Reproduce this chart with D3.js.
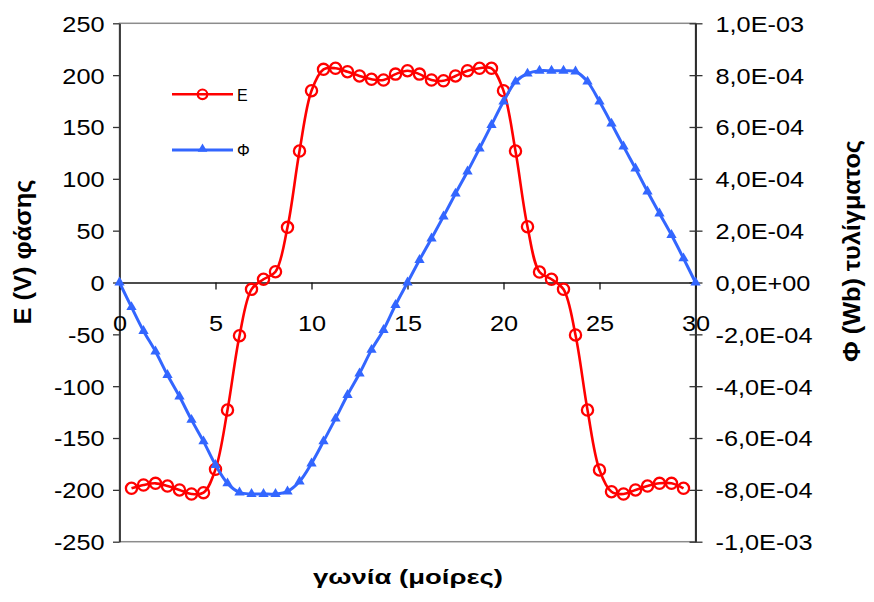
<!DOCTYPE html>
<html><head><meta charset="utf-8">
<script src="https://cdn.jsdelivr.net/npm/d3@7"></script>
<style>body{margin:0;background:#fff} svg{display:block}</style>
</head><body>
<svg id="chart" width="874" height="602"></svg>
<script>
// ---- data ----
const phiAngles = [0,0.625,1.25,1.875,2.5,3.125,3.75,4.375,5,5.625,6.25,6.875,7.5,8.125,8.75,9.375,10,10.625,11.25,11.875,12.5,13.125,13.75,14.375,15,15.625,16.25,16.875,17.5,18.125,18.75,19.375,20,20.625,21.25,21.875,22.5,23.125,23.75,24.375,25,25.625,26.25,26.875,27.5,28.125,28.75,29.375,30];
const phiValues = [0,-0.95e-4,-1.87e-4,-2.66e-4,-3.57e-4,-4.40e-4,-5.30e-4,-6.13e-4,-7.04e-4,-7.75e-4,-8.10e-4,-8.16e-4,-8.16e-4,-8.16e-4,-8.06e-4,-7.68e-4,-6.98e-4,-6.13e-4,-5.25e-4,-4.34e-4,-3.51e-4,-2.60e-4,-1.83e-4,-0.87e-4,0,0.87e-4,1.70e-4,2.55e-4,3.43e-4,4.28e-4,5.17e-4,6.08e-4,6.98e-4,7.75e-4,8.06e-4,8.17e-4,8.17e-4,8.17e-4,8.14e-4,7.75e-4,6.98e-4,6.13e-4,5.25e-4,4.40e-4,3.51e-4,2.66e-4,1.83e-4,0.93e-4,0];
const eAngles = [0.625,1.25,1.875,2.5,3.125,3.75,4.375,5,5.625,6.25,6.875,7.5,8.125,8.75,9.375,10,10.625,11.25,11.875,12.5,13.125,13.75,14.375,15,15.625,16.25,16.875,17.5,18.125,18.75,19.375,20,20.625,21.25,21.875,22.5,23.125,23.75,24.375,25,25.625,26.25,26.875,27.5,28.125,28.75,29.375];
const eValues = [-198.5,-195.3,-193.7,-196.3,-200.1,-204,-202.7,-180.2,-123,-51.3,-6.6,3.1,10.4,53.2,126.8,185,205.6,206.6,203.3,199.2,196,195.3,201,204.3,201,195.3,194.6,199.2,204.3,206.6,206.6,185,126.8,53.8,10.1,3.1,-6.5,-50.6,-123,-180.8,-201.8,-204,-200.1,-196.3,-193.7,-193.7,-198.5];
const xTicks = [0,5,10,15,20,25,30];
const eTicks = [-250,-200,-150,-100,-50,0,50,100,150,200,250];
const phiTicks = [-1e-3,-8e-4,-6e-4,-4e-4,-2e-4,0,2e-4,4e-4,6e-4,8e-4,1e-3];
const phiTickLabels = ["-1,0E-03","-8,0E-04","-6,0E-04","-4,0E-04","-2,0E-04","0,0E+00","2,0E-04","4,0E-04","6,0E-04","8,0E-04","1,0E-03"];
const seriesNames = ["E","Φ"];
const xTitle = "γωνία (μοίρες)";
const yLeftTitle = "E (V) φάσης";
const yRightTitle = "Φ (Wb) τυλίγματος";

// ---- layout ----
const FONT = "'Liberation Sans', Arial, sans-serif";
const RED = "#ff0000", BLUE = "#3366ff";
const pL = 119.5, pR = 695.5, pT = 23.3, pB = 541.7;
const SX = 1.15;
const plain = d => String(d); // hyphen-minus like the original

const svg = d3.select("#chart");
svg.append("rect").attr("width",874).attr("height",602).attr("fill","#fff");

const x = d3.scaleLinear().domain([0,30]).range([pL,pR]);
const yE = d3.scaleLinear().domain([-250,250]).range([pB,pT]);
const yP = d3.scaleLinear().domain([-1e-3,1e-3]).range([pB,pT]);

// plot area border
svg.append("rect").attr("x",pL).attr("y",pT).attr("width",pR-pL).attr("height",pB-pT)
  .attr("fill","none").attr("stroke","#8c8c8c").attr("stroke-width",1.5);

function styleTexts(g){
  g.selectAll(".tick text").attr("font-family",FONT).attr("font-size",22).attr("fill","#000")
   .attr("transform",`scale(${SX},1)`);
}

// left axis
const gL = svg.append("g").attr("transform",`translate(${pL},0)`)
  .call(d3.axisLeft(yE).tickValues(eTicks).tickSizeInner(6.5).tickSizeOuter(0).tickPadding(0).tickFormat(plain));
gL.select(".domain").attr("stroke","#333").attr("stroke-width",1.8);
gL.selectAll(".tick line").attr("stroke","#333").attr("stroke-width",1.3);
styleTexts(gL);
gL.selectAll(".tick text").attr("x",-15/SX).attr("dy","0.36em");

// right axis
const gR = svg.append("g").attr("transform",`translate(${pR},0)`)
  .call(d3.axisRight(yP).tickValues(phiTicks).tickSizeInner(7).tickSizeOuter(0)
    .tickFormat((d,i)=>phiTickLabels[i]));
gR.select(".domain").attr("stroke","#222").attr("stroke-width",1.8);
gR.selectAll(".tick line").attr("stroke","#333").attr("stroke-width",1.3).attr("x1",-6).attr("x2",7);
styleTexts(gR);
gR.selectAll(".tick text").attr("x",20/SX).attr("dy","0.36em");

// x axis at E=0
const gX = svg.append("g").attr("transform",`translate(0,${yE(0)})`)
  .call(d3.axisBottom(x).tickValues(xTicks).tickSizeInner(7).tickSizeOuter(0).tickFormat(plain));
gX.select(".domain").attr("stroke","#111").attr("stroke-width",1.3);
gX.selectAll(".tick line").attr("stroke","#111").attr("stroke-width",1.3);
styleTexts(gX);
gX.selectAll(".tick text").attr("y",49).attr("dy","0");

// series
const eData = eAngles.map((a,i)=>[a,eValues[i]]);
const phiData = phiAngles.map((a,i)=>[a,phiValues[i]]);
const lineE = d3.line().x(d=>x(d[0])).y(d=>yE(d[1])).curve(d3.curveCatmullRom.alpha(0.5));
const lineP = d3.line().x(d=>x(d[0])).y(d=>yP(d[1])).curve(d3.curveCatmullRom.alpha(0.5));

svg.append("path").datum(eData).attr("d",lineE).attr("fill","none").attr("stroke",RED).attr("stroke-width",2.6);
svg.append("g").selectAll("circle").data(eData).join("circle")
  .attr("cx",d=>x(d[0])).attr("cy",d=>yE(d[1])).attr("r",5.6)
  .attr("fill","none").attr("stroke",RED).attr("stroke-width",2.3);

svg.append("path").datum(phiData).attr("d",lineP).attr("fill","none").attr("stroke",BLUE).attr("stroke-width",3);
const tri = d3.symbol().type(d3.symbolTriangle).size(46);
svg.append("g").selectAll("path").data(phiData).join("path")
  .attr("d",tri).attr("transform",d=>`translate(${x(d[0])},${yP(d[1])})`).attr("fill",BLUE);

// legend
const lg = svg.append("g");
lg.append("line").attr("x1",172).attr("x2",233).attr("y1",94.3).attr("y2",94.3).attr("stroke",RED).attr("stroke-width",2.6);
lg.append("circle").attr("cx",202.5).attr("cy",94.3).attr("r",4.8).attr("fill","none").attr("stroke",RED).attr("stroke-width",2.2);
lg.append("text").attr("x",237).attr("y",100.5).text(seriesNames[0]).attr("font-family",FONT).attr("font-size",16);
lg.append("line").attr("x1",172).attr("x2",233).attr("y1",150).attr("y2",150).attr("stroke",BLUE).attr("stroke-width",3);
lg.append("path").attr("d",d3.symbol().type(d3.symbolTriangle).size(40)()).attr("transform","translate(202.5,149)").attr("fill",BLUE);
lg.append("text").attr("x",237).attr("y",156).text(seriesNames[1]).attr("font-family",FONT).attr("font-size",16);

// titles
svg.append("text").attr("x",408).attr("y",584).attr("text-anchor","middle")
  .attr("font-family",FONT).attr("font-weight","bold").attr("font-size",20)
  .attr("textLength",190).attr("lengthAdjust","spacingAndGlyphs").text(xTitle);
svg.append("text").attr("transform","translate(31,252) rotate(-90)").attr("text-anchor","middle")
  .attr("font-family",FONT).attr("font-weight","bold").attr("font-size",24)
  .attr("textLength",145).attr("lengthAdjust","spacingAndGlyphs").text(yLeftTitle);
svg.append("text").attr("transform","translate(860,251) rotate(-90)").attr("text-anchor","middle")
  .attr("font-family",FONT).attr("font-weight","bold").attr("font-size",24)
  .attr("textLength",222).attr("lengthAdjust","spacingAndGlyphs").text(yRightTitle);
</script>
</body></html>
